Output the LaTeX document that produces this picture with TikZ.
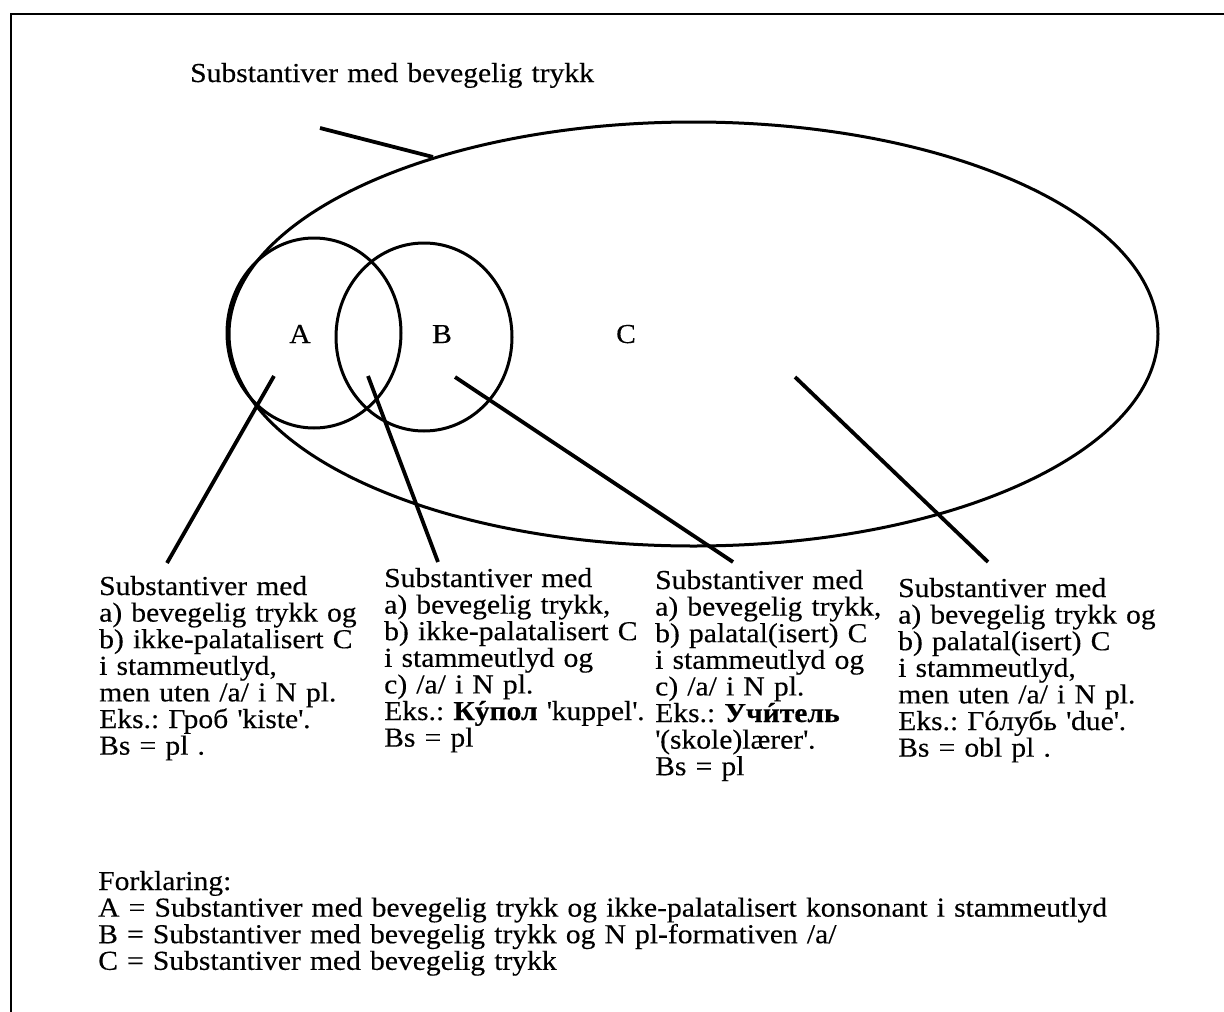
\documentclass[tikz,border=0pt]{standalone}
\usepackage{fontspec}
\setmainfont{Liberation Serif}[FakeStretch=1.08, FakeBold=0.3]
% body text on a fixed line pitch
\newcommand{\boxfont}{\fontsize{27.4}{26.6}\selectfont\frenchspacing\lineskiplimit=-100pt\baselineskip=26.6pt}
% stress mark centred over one letter
\newcommand{\stress}[1]{\leavevmode\setbox0\hbox{#1}\rlap{\hbox to\wd0{\hss\char"00B4\hss}}\box0}
\newcommand{\sq}{\textquotesingle}
\begin{document}
\begin{tikzpicture}[x=1pt,y=-1pt,
  txt/.style={font={\boxfont}, execute at begin node={\boxfont}, inner sep=0pt,
              anchor=base west, text width=330pt, align=left},
  setlabel/.style={font={\boxfont}, inner sep=0pt, anchor=base},
  ring/.style={line width=3pt},
  pointer/.style={line width=3.8pt},
  frame/.style={line width=2.2pt}]
\useasboundingbox (0,0) rectangle (1224,1012);
% frame, open to the right and below
\draw[frame] (11,1012) -- (11,14) -- (1224,14);

% the three sets
\draw[ring] (693.5,334) ellipse [x radius=464.5, y radius=212];
\draw[ring] (314,333) ellipse [x radius=87, y radius=95];
\draw[ring] (424,337) ellipse [x radius=88, y radius=94];

\node[setlabel] (la) at (300,343) {A};
\node[setlabel] (lb) at (442,343) {B};
\node[setlabel] (lc) at (626,343) {C};

% title with its pointer
\node[txt, text width=600pt] (title) at (190,82) {Substantiver med bevegelig trykk};
\coordinate (t0) at (320,128);
\coordinate (t1) at (433,157);
\draw[pointer] (t0) -- (t1);

% description boxes
\node[txt] (d1) at (99,595) {Substantiver med\\a) bevegelig trykk og\\b) ikke-palatalisert C\\i stammeutlyd,\\men uten /a/ i N pl.\\Eks.: Гроб \sq kiste\sq.\\Bs = pl .};
\node[txt] (d2) at (384,587) {Substantiver med\\a) bevegelig trykk,\\b) ikke-palatalisert C\\i stammeutlyd og\\c) /a/ i N pl.\\Eks.: \textbf{К\stress{у}пол} \sq kuppel\sq.\\Bs = pl};
\node[txt] (d3) at (655,589) {Substantiver med\\a) bevegelig trykk,\\b) palatal(isert) C\\i stammeutlyd og\\c) /a/ i N pl.\\Eks.: \textbf{Уч\stress{и}тель}\\\sq(skole)lærer\sq.\\Bs = pl};
\node[txt] (d4) at (898,597) {Substantiver med\\a) bevegelig trykk og\\b) palatal(isert) C\\i stammeutlyd,\\men uten /a/ i N pl.\\Eks.: Г\stress{о}лубь \sq due\sq.\\Bs = obl pl .};

% pointers from the regions to the boxes
\coordinate (pa) at (274,376);  \coordinate (qa) at (167,563);
\coordinate (pab) at (368,376); \coordinate (qab) at (438,562);
\coordinate (pb) at (455,377);  \coordinate (qb) at (733,562);
\coordinate (pc) at (795,377);  \coordinate (qc) at (988,562);
\draw[pointer] (pa) -- (qa);
\draw[pointer] (pab) -- (qab);
\draw[pointer] (pb) -- (qb);
\draw[pointer] (pc) -- (qc);

% key
\node[txt, text width=1100pt] (key) at (98,890) {Forklaring:\\A = Substantiver med bevegelig trykk og ikke-palatalisert konsonant i stammeutlyd\\B = Substantiver med bevegelig trykk og N pl-formativen /a/\\C = Substantiver med bevegelig trykk};
\end{tikzpicture}
\end{document}
